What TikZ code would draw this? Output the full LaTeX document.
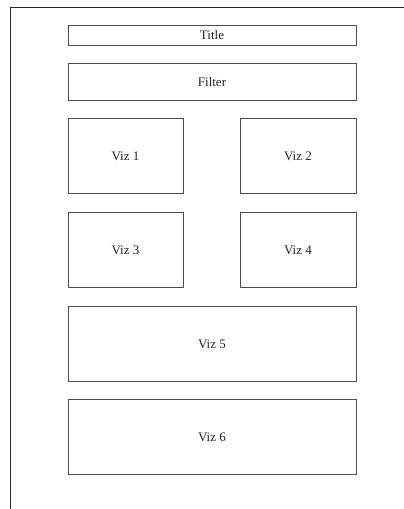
\documentclass[tikz,border=0pt]{standalone}
\usepackage{fontspec}
\setmainfont{Liberation Serif}
\begin{document}
\begin{tikzpicture}[x=1pt,y=-1pt,
  panel/.style={draw=black!70,line width=0.95pt},
  lbl/.style={font=\fontsize{13}{15}\selectfont,text=black!85}]
\useasboundingbox (0,0) rectangle (404,509);
\fill[white] (0,0) rectangle (404,509);
\coordinate (fa) at (10,509);
\coordinate (fb) at (10,7);
\coordinate (fc) at (404,7);
\draw[black!85,line width=0.8pt] (fa) -- (fb) -- (fc);
\draw[panel] (68,25) rectangle (356,45); \node[lbl] (title) at (212,35) {Title};
\draw[panel] (68,63) rectangle (356,100); \node[lbl] (filter) at (212,82) {Filter};
\draw[panel] (68,118) rectangle (183,193); \node[lbl] (v1) at (125.5,156) {Viz 1};
\draw[panel] (240,118) rectangle (356,193); \node[lbl] (v2) at (298,156) {Viz 2};
\draw[panel] (68,212) rectangle (183,287); \node[lbl] (v3) at (125.5,250) {Viz 3};
\draw[panel] (240,212) rectangle (356,287); \node[lbl] (v4) at (298,250) {Viz 4};
\draw[panel] (68,306) rectangle (356,381); \node[lbl] (v5) at (212,344) {Viz 5};
\draw[panel] (68,399) rectangle (356,474); \node[lbl] (v6) at (212,437) {Viz 6};
\end{tikzpicture}
\end{document}
